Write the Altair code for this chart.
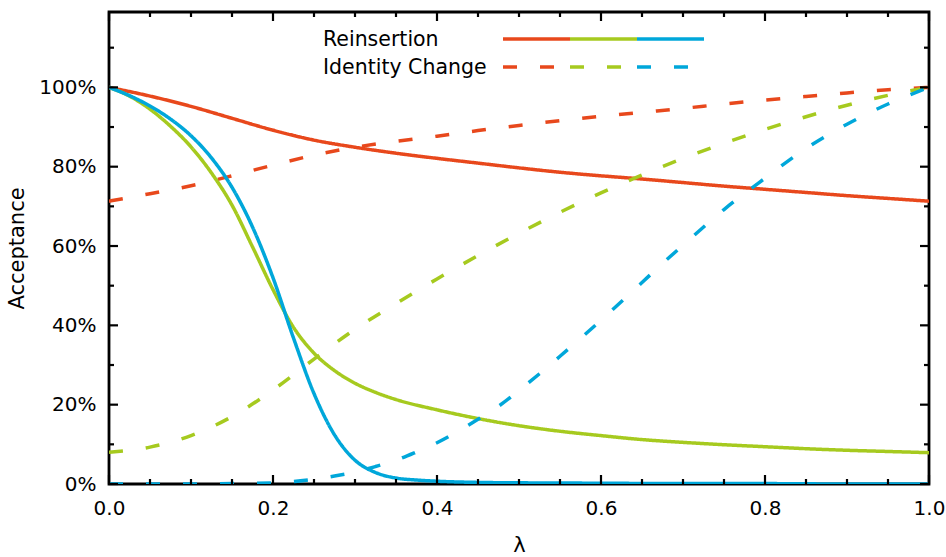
import altair as alt
import pandas as pd

# ---- curve data -------------------------------------------------------------
lam_coarse = [0.0, 0.05, 0.1, 0.15, 0.2, 0.25, 0.3, 0.35, 0.4, 0.45, 0.5,
              0.55, 0.6, 0.65, 0.7, 0.75, 0.8, 0.85, 0.9, 0.95, 1.0]

reins_orange = [1.0, 0.978, 0.952, 0.922, 0.892, 0.867, 0.849, 0.834, 0.821,
                0.809, 0.797, 0.786, 0.777, 0.769, 0.760, 0.751, 0.743,
                0.735, 0.727, 0.720, 0.713]
ident_orange = [0.713, 0.732, 0.752, 0.777, 0.804, 0.829, 0.849, 0.864, 0.877,
                0.891, 0.904, 0.916, 0.927, 0.937, 0.947, 0.958, 0.968,
                0.977, 0.986, 0.994, 1.0]
ident_lime = [0.080, 0.093, 0.122, 0.170, 0.237, 0.315, 0.390, 0.455, 0.517,
              0.576, 0.632, 0.685, 0.734, 0.779, 0.821, 0.859, 0.894, 0.926,
              0.955, 0.980, 1.0]

lam_lime_solid = [0.0, 0.025, 0.05, 0.075, 0.1, 0.125, 0.15, 0.175, 0.2,
                  0.225, 0.25, 0.275, 0.3, 0.325, 0.35, 0.4, 0.45, 0.5, 0.55,
                  0.6, 0.65, 0.7, 0.75, 0.8, 0.85, 0.9, 0.95, 1.0]
reins_lime = [1.0, 0.978, 0.945, 0.902, 0.850, 0.784, 0.703, 0.598, 0.490,
              0.395, 0.330, 0.286, 0.254, 0.231, 0.213, 0.187, 0.165, 0.147,
              0.133, 0.122, 0.112, 0.105, 0.099, 0.094, 0.089, 0.085, 0.082,
              0.079]

lam_cyan_solid = [0.0, 0.025, 0.05, 0.075, 0.1, 0.125, 0.15, 0.175, 0.2,
                  0.225, 0.25, 0.275, 0.3, 0.325, 0.35, 0.375, 0.4, 0.45, 0.5,
                  0.6, 0.7, 0.8, 0.9, 1.0]
reins_cyan = [1.0, 0.979, 0.953, 0.920, 0.878, 0.822, 0.748, 0.648, 0.520,
              0.368, 0.228, 0.124, 0.060, 0.029, 0.015, 0.010, 0.007, 0.004,
              0.003, 0.002, 0.001, 0.001, 0.0, 0.0]

lam_cyan_dash = [0.0, 0.05, 0.1, 0.15, 0.2, 0.225, 0.25, 0.275, 0.3, 0.325,
                 0.35, 0.375, 0.4, 0.425, 0.45, 0.475, 0.5, 0.525, 0.55,
                 0.575, 0.6, 0.625, 0.65, 0.675, 0.7, 0.75, 0.8, 0.85, 0.9,
                 0.95, 1.0]
ident_cyan = [0.0, 0.0, 0.0, 0.001, 0.003, 0.006, 0.012, 0.020, 0.030, 0.044,
              0.060, 0.081, 0.104, 0.132, 0.163, 0.196, 0.236, 0.278, 0.322,
              0.367, 0.413, 0.460, 0.508, 0.556, 0.602, 0.692, 0.771, 0.846,
              0.907, 0.958, 1.0]

series_keys = ["orange", "lime", "cyan"]
series_colors = ["#E8481C", "#A6CA1F", "#00A7DA"]
kinds = ["Reinsertion", "Identity Change"]

x_major = [0.0, 0.2, 0.4, 0.6, 0.8, 1.0]
x_minor = [0.05, 0.1, 0.15, 0.25, 0.3, 0.35, 0.45, 0.5, 0.55, 0.65, 0.7,
           0.75, 0.85, 0.9, 0.95]
y_major = [0.0, 0.2, 0.4, 0.6, 0.8, 1.0]
y_minor = [0.1, 0.3, 0.5, 0.7, 0.9, 1.1]

# ---- assemble long table ----------------------------------------------------
frames = []
for lam, vals, key, kind in [
    (lam_coarse, reins_orange, "orange", "Reinsertion"),
    (lam_coarse, ident_orange, "orange", "Identity Change"),
    (lam_lime_solid, reins_lime, "lime", "Reinsertion"),
    (lam_coarse, ident_lime, "lime", "Identity Change"),
    (lam_cyan_solid, reins_cyan, "cyan", "Reinsertion"),
    (lam_cyan_dash, ident_cyan, "cyan", "Identity Change"),
]:
    frames.append(pd.DataFrame({"lam": lam, "acc": vals, "series": key, "kind": kind}))
df = pd.concat(frames, ignore_index=True)

W, H = 820, 472
FONT = "DejaVu Sans"
DASH = [14, 23]
LW = 3.5

xscale = alt.Scale(domain=[0, 1], nice=False, zero=False)
yscale = alt.Scale(domain=[0, 1.19], nice=False, zero=False)
xaxis = alt.Axis(values=x_major, format=".1f", title="λ", grid=False,
                 domain=False, ticks=False, labelFlush=False,
                 labelPadding=14, titlePadding=16)
yaxis = alt.Axis(values=y_major, format=".0%", title="Acceptance", grid=False,
                 domain=False, ticks=False, labelPadding=13, titlePadding=11)

lines = alt.Chart(df).mark_line(strokeWidth=LW, interpolate="monotone", clip=True).encode(
    x=alt.X("lam:Q", scale=xscale, axis=xaxis),
    y=alt.Y("acc:Q", scale=yscale, axis=yaxis),
    color=alt.Color("series:N", scale=alt.Scale(domain=series_keys, range=series_colors),
                    legend=None),
    strokeDash=alt.StrokeDash("kind:N",
                              scale=alt.Scale(domain=kinds, range=[[1, 0], DASH]),
                              legend=None),
)


def xticks(values, length):
    d = pd.DataFrame({"lam": values})
    base = alt.Chart(d).mark_rule(color="black", strokeWidth=2.2)
    enc_x = alt.X("lam:Q", scale=xscale, axis=xaxis)
    bottom = base.encode(x=enc_x, y=alt.value(H), y2=alt.value(H - length))
    top = base.encode(x=enc_x, y=alt.value(0), y2=alt.value(length))
    return [bottom, top]


def yticks(values, length):
    d = pd.DataFrame({"acc": values})
    base = alt.Chart(d).mark_rule(color="black", strokeWidth=2.2)
    enc_y = alt.Y("acc:Q", scale=yscale, axis=yaxis)
    left = base.encode(y=enc_y, x=alt.value(0), x2=alt.value(length))
    right = base.encode(y=enc_y, x=alt.value(W), x2=alt.value(W - length))
    return [left, right]


ticks = xticks(x_major, 9) + xticks(x_minor, 5) + yticks(y_major, 9) + yticks(y_minor, 5)

# ---- key in the upper middle ------------------------------------------------
one = pd.DataFrame({"k": [0]})
key_layers = []
for label, y in [("Reinsertion", 28), ("Identity Change", 56)]:
    key_layers.append(
        alt.Chart(one).mark_text(text=label, align="left", baseline="middle",
                                 font=FONT, fontSize=20.5, color="black")
        .encode(x=alt.value(214), y=alt.value(y))
    )
seg_edges = [394, 461, 528, 595]
for i, col in enumerate(series_colors):
    key_layers.append(
        alt.Chart(one).mark_rule(color=col, strokeWidth=LW, strokeCap="butt")
        .encode(x=alt.value(seg_edges[i]), x2=alt.value(seg_edges[i + 1]), y=alt.value(27))
    )
    key_layers.append(
        alt.Chart(one).mark_rule(color=col, strokeWidth=LW, strokeCap="butt", strokeDash=DASH)
        .encode(x=alt.value(seg_edges[i]), x2=alt.value(seg_edges[i + 1]), y=alt.value(55))
    )

chart = alt.layer(lines, *ticks, *key_layers).properties(
    width=W, height=H,
    autosize="none",
    background="white",
    padding={"left": 109, "top": 12, "right": 17, "bottom": 73},
).configure_view(
    stroke="black", strokeWidth=2.8
).configure_axis(
    labelFont=FONT, titleFont=FONT, labelFontSize=20, titleFontSize=21,
    labelColor="black", titleColor="black", titleFontWeight="normal",
)

chart.save("out.html", embed_options={"renderer": "svg", "actions": False})
